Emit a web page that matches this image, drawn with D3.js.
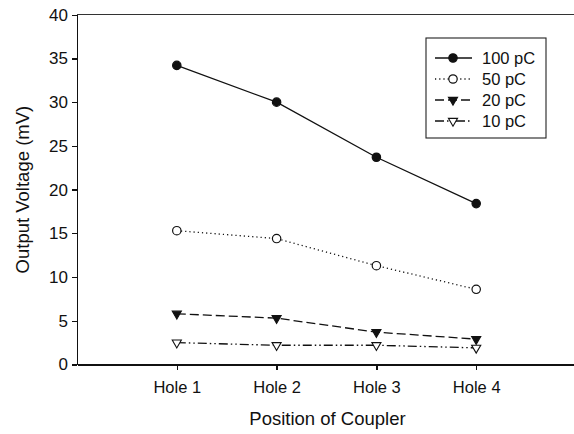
<!DOCTYPE html>
<html lang="en">
<head>
<meta charset="utf-8">
<title>Output voltage by coupler position</title>
<script src="https://d3js.org/d3.v7.min.js"></script>
<style>
  body { margin: 0; background: #fff; }
  svg { font-family: "Liberation Sans", Arial, sans-serif; }
  .axis path, .axis line { stroke: #111; stroke-width: 1.3; shape-rendering: crispEdges; }
  .axis text { font-size: 16.5px; fill: #111; }
  .series { fill: none; stroke: #111; stroke-width: 1.3; }
</style>
</head>
<body>
<script>
var w = 574, h = 434;

// data
var holes = ["Hole 1", "Hole 2", "Hole 3", "Hole 4"];
var yTicks = [0, 5, 10, 15, 20, 25, 30, 35, 40];
var seriesNames = ["100 pC", "50 pC", "20 pC", "10 pC"];
var v100 = [34.2, 30.0, 23.7, 18.4];
var v50 = [15.3, 14.4, 11.3, 8.6];
var v20 = [5.8, 5.3, 3.7, 2.9];
var v10 = [2.5, 2.2, 2.2, 1.9];

var styles = [
  { dash: null, marker: "circle", fill: "#111" },
  { dash: "1.2,3", marker: "circle", fill: "#fff" },
  { dash: "9,4", marker: "tri", fill: "#111" },
  { dash: "9,3,1.5,3,1.5,3", marker: "tri", fill: "#fff" }
];
var allValues = [v100, v50, v20, v10];

var svg = d3.select("body").append("svg")
    .attr("width", w)
    .attr("height", h);

var x = d3.scaleLinear().domain([0, 5]).range([77, 576]);
var y = d3.scaleLinear().domain([0, 40]).range([364.5, 14.7]);

// top frame line
svg.append("line")
    .attr("x1", x(0)).attr("x2", 574)
    .attr("y1", y(40)).attr("y2", y(40))
    .attr("stroke", "#333").attr("stroke-width", 1.1)
    .attr("shape-rendering", "crispEdges");

// Y axis
var yAxis = d3.axisLeft(y).tickValues(yTicks).tickSize(5).tickPadding(4).tickSizeOuter(0);
svg.append("g")
    .attr("class", "axis")
    .attr("transform", "translate(" + x(0) + ",0)")
    .call(yAxis)
    .selectAll("text").style("font-size", "17px");

// X axis
var xAxis = d3.axisBottom(x)
    .tickValues([1, 2, 3, 4])
    .tickFormat(function(d) { return holes[d - 1]; })
    .tickSize(5).tickPadding(12).tickSizeOuter(0);
svg.append("g")
    .attr("class", "axis")
    .attr("transform", "translate(0," + y(0) + ")")
    .call(xAxis);

// axis titles
svg.append("text")
    .attr("transform", "translate(29," + ((y(0) + y(40)) / 2) + ") rotate(-90)")
    .attr("text-anchor", "middle")
    .style("font-size", "18.5px")
    .attr("fill", "#111")
    .text("Output Voltage (mV)");

svg.append("text")
    .attr("x", (x(1) + x(4)) / 2 + 1)
    .attr("y", 425)
    .attr("text-anchor", "middle")
    .style("font-size", "18.5px")
    .attr("fill", "#111")
    .text("Position of Coupler");

var tri = d3.symbol().type(d3.symbolTriangle).size(36);

function drawMarker(g, sx, sy, st) {
  if (st.marker == "circle") {
    g.append("circle")
        .attr("cx", sx).attr("cy", sy).attr("r", 4.2)
        .attr("fill", st.fill).attr("stroke", "#111").attr("stroke-width", 1.2);
  } else {
    g.append("path")
        .attr("d", tri)
        .attr("transform", "translate(" + sx + "," + sy + ") rotate(180)")
        .attr("fill", st.fill).attr("stroke", "#111").attr("stroke-width", 1.1);
  }
}

var line = d3.line()
    .x(function(d, i) { return x(i + 1); })
    .y(function(d) { return y(d); });

allValues.forEach(function(vals, k) {
  var st = styles[k];
  var g = svg.append("g");
  g.append("path")
      .datum(vals)
      .attr("class", "series")
      .attr("d", line)
      .attr("stroke-dasharray", st.dash);
  vals.forEach(function(v, i) {
    drawMarker(g, x(i + 1), y(v), st);
  });
});

// legend
var lg = svg.append("g");
lg.append("rect")
    .attr("x", 426).attr("y", 38)
    .attr("width", 120).attr("height", 100)
    .attr("fill", "#fff").attr("stroke", "#222").attr("stroke-width", 1.1);

seriesNames.forEach(function(name, k) {
  var st = styles[k];
  var ry = 58 + k * 21;
  lg.append("line")
      .attr("x1", 435).attr("x2", 472)
      .attr("y1", ry).attr("y2", ry)
      .attr("class", "series")
      .attr("stroke-dasharray", st.dash);
  drawMarker(lg, 453, ry, st);
  lg.append("text")
      .attr("x", 482).attr("y", ry)
      .attr("dy", "0.36em")
      .style("font-size", "16.5px")
      .attr("fill", "#111")
      .text(name);
});
</script>
</body>
</html>
